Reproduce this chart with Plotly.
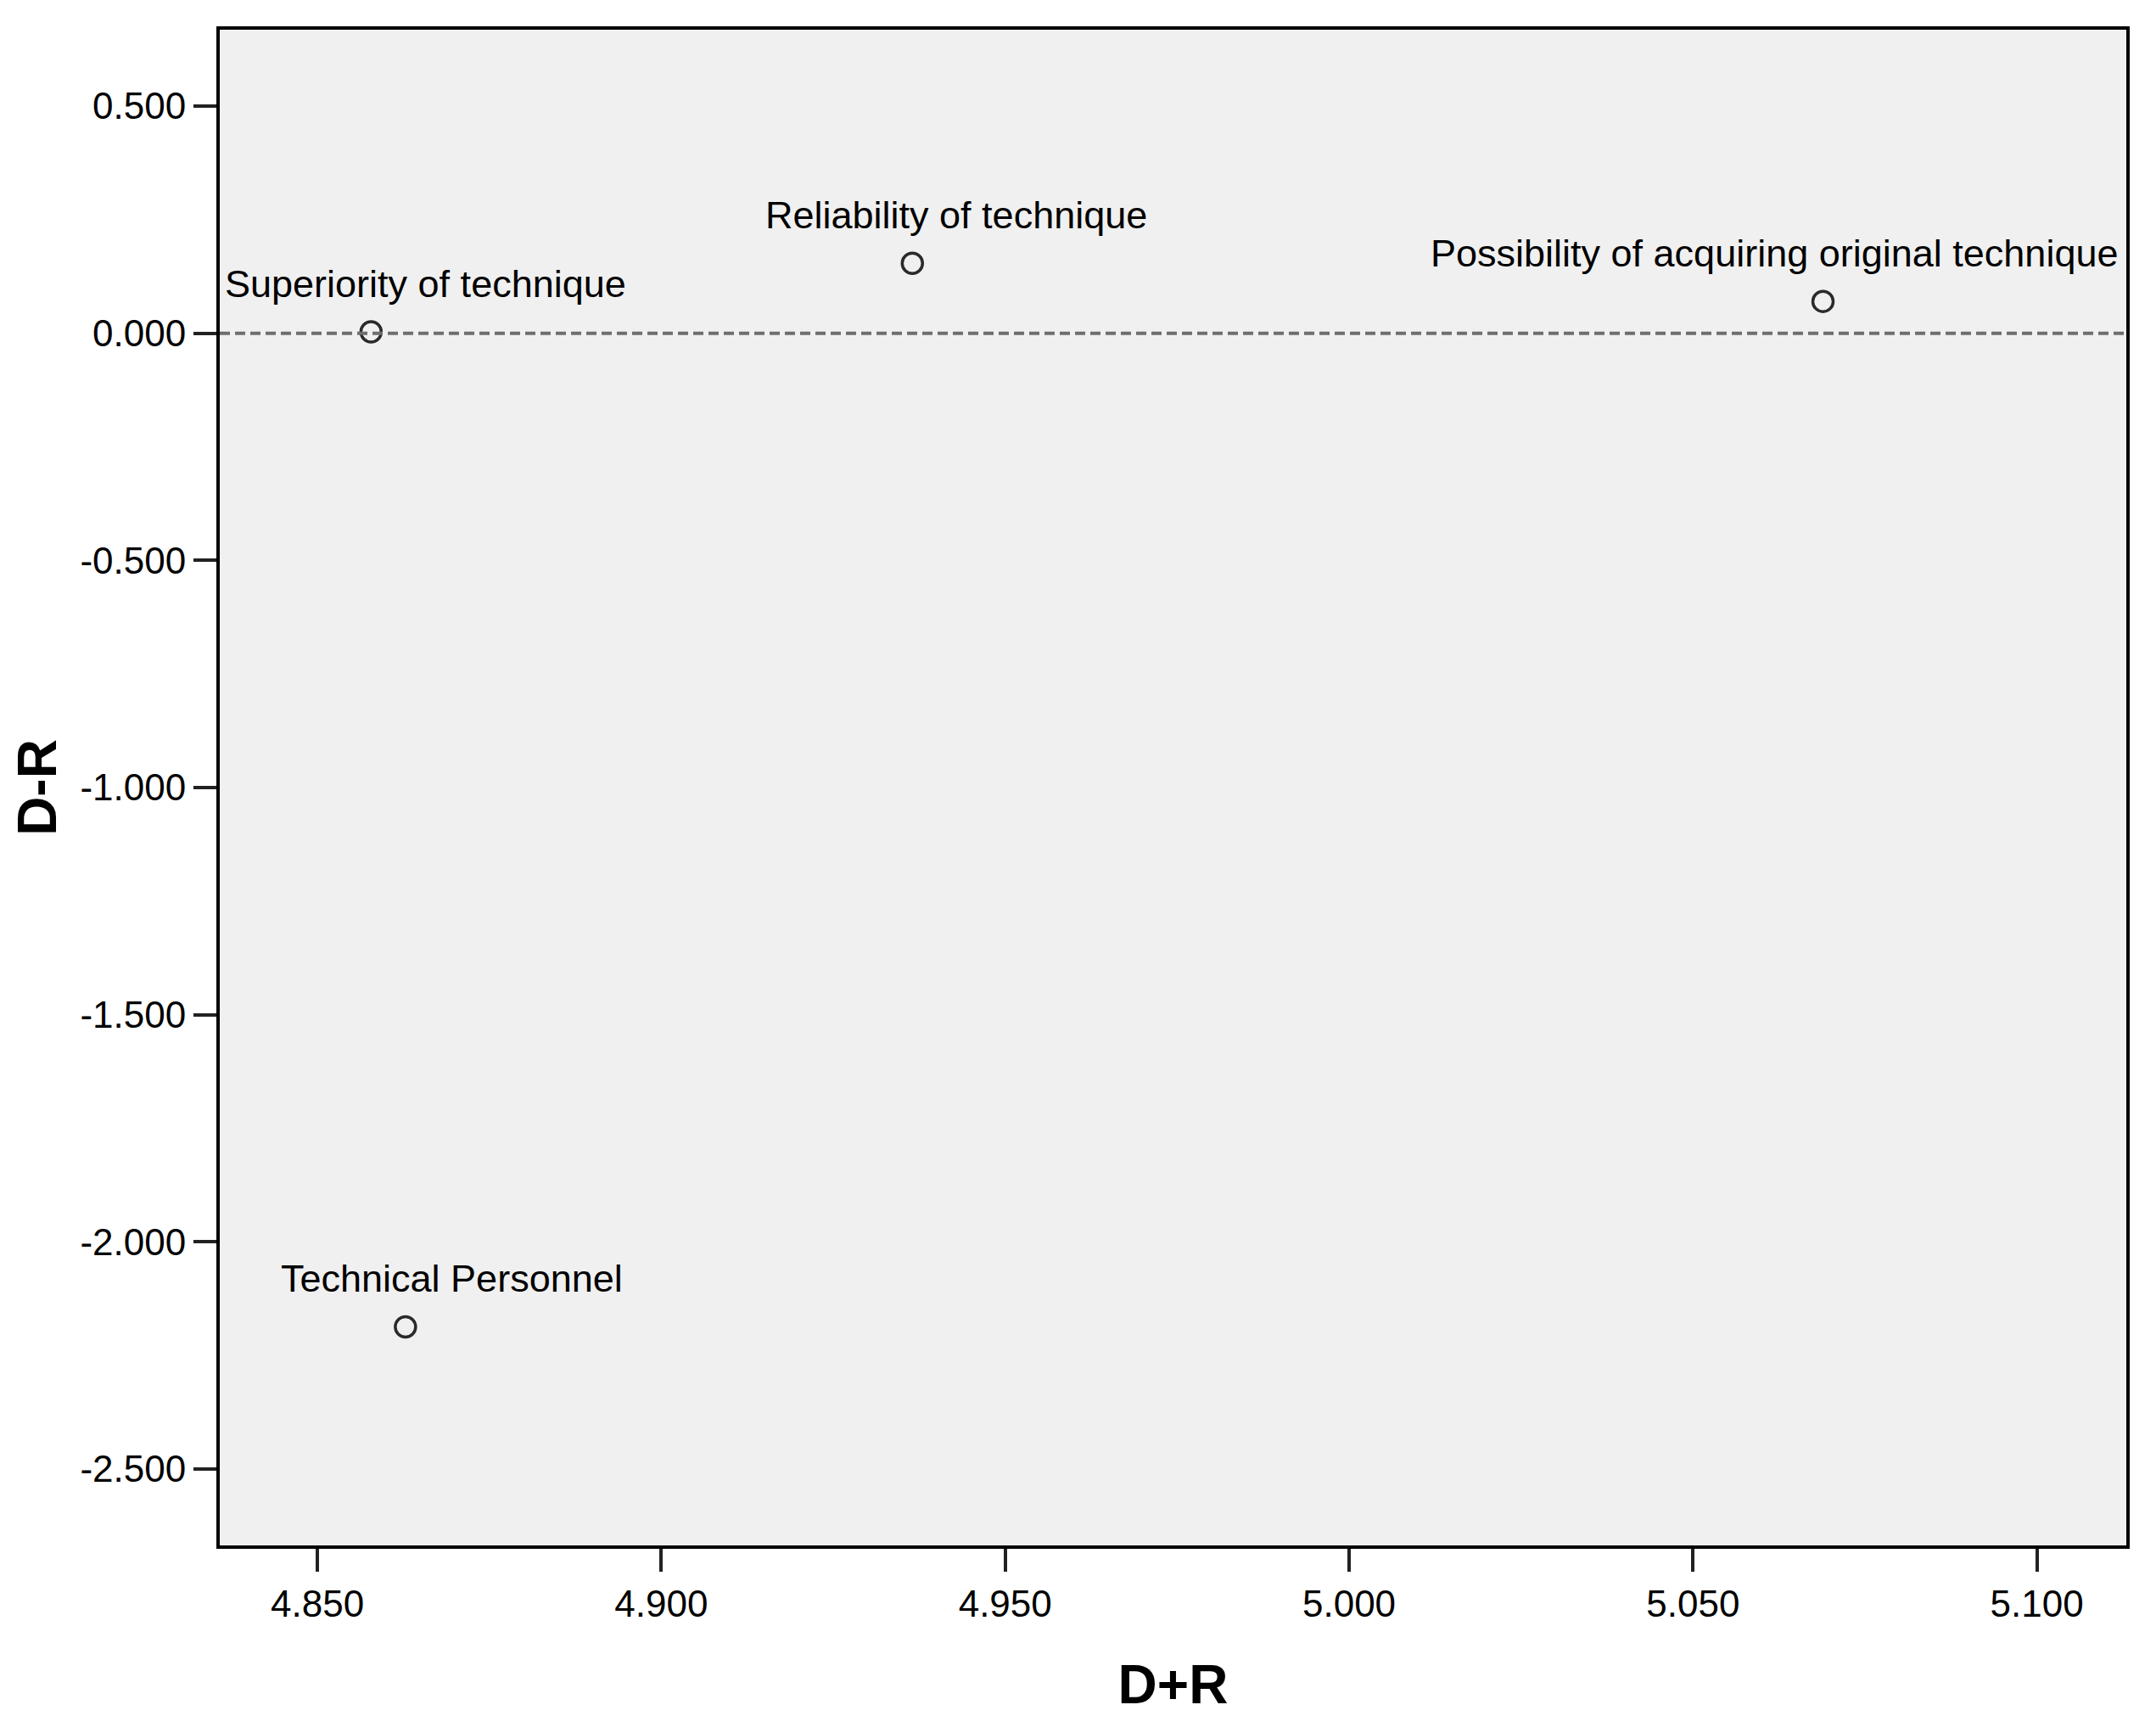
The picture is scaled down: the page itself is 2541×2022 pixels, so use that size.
import plotly.graph_objects as go

# D+R / D-R values
factors = ["Superiority of technique", "Reliability of technique",
           "Possibility of acquiring original technique", "Technical Personnel"]
d_plus_r = [4.8578, 4.9365, 5.0689, 4.8628]
d_minus_r = [0.003, 0.154, 0.070, -2.187]

x_ticks = [4.85, 4.90, 4.95, 5.00, 5.05, 5.10]
y_ticks = [0.5, 0.0, -0.5, -1.0, -1.5, -2.0, -2.5]

# label offsets (px) relative to each point, as SPSS placed them
label_dx = [64, 52, -58, 55]

FONT = "Liberation Sans, Arial, sans-serif"

fig = go.Figure()

fig.add_hline(y=0, line=dict(color="#6e6e6e", width=4, dash="12px,6px"))

fig.add_trace(go.Scatter(
    x=d_plus_r, y=d_minus_r, mode="markers",
    marker=dict(symbol="circle-open", size=24, color="#2a2a2a",
                line=dict(width=3.5, color="#2a2a2a")),
    showlegend=False, hoverinfo="skip"))

for name, x, y, dx in zip(factors, d_plus_r, d_minus_r, label_dx):
    fig.add_annotation(x=x, y=y, text=name, showarrow=False,
                       xshift=dx, yshift=57,
                       font=dict(family=FONT, size=45, color="black"))

axis_common = dict(
    showgrid=False, zeroline=False, showline=True, mirror=True,
    linecolor="black", linewidth=4, automargin=False,
    ticks="outside", ticklen=27, tickwidth=4, tickcolor="#222222",
    tickfont=dict(family=FONT, size=44, color="black"))

fig.update_layout(
    width=2541, height=2022,
    margin=dict(l=251, r=43, t=27, b=209),
    paper_bgcolor="white", plot_bgcolor="#F0F0F0",
    xaxis=dict(range=[4.8358, 5.113], tickvals=x_ticks,
               ticktext=[f"{v:.3f}" for v in x_ticks],
               title=dict(text="<b>D+R</b>", standoff=50,
                          font=dict(family=FONT, size=64, color="black")),
               **axis_common),
    yaxis=dict(range=[-2.668, 0.668], tickvals=y_ticks,
               ticktext=[f"{v:.3f}" for v in y_ticks],
               title=dict(text="<b>D-R</b>", standoff=40,
                          font=dict(family=FONT, size=64, color="black")),
               **axis_common),
)

fig.write_html("out.html")
